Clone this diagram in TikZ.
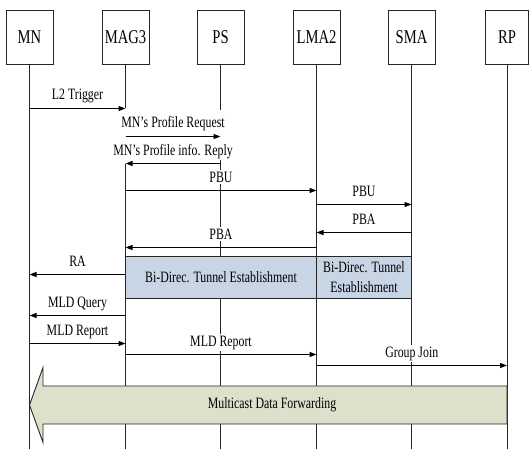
\documentclass[tikz,border=0pt]{standalone}
\usepackage{fontspec}
\setmainfont{Liberation Serif}[FakeStretch=0.75]
\usetikzlibrary{arrows.meta}
\definecolor{ln}{HTML}{262626}
\definecolor{tunnelfill}{HTML}{C8D5E5}
\definecolor{mcastfill}{HTML}{DCE1CB}
\begin{document}
\begin{tikzpicture}[x=1pt,y=-1pt,
  actor/.style={draw=ln, line width=0.9pt, minimum width=47pt, minimum height=54pt, inner sep=0pt, font=\fontsize{19.5}{20}\selectfont},
  life/.style={draw=ln, line width=0.9pt},
  msg/.style={draw=black, line width=1.1pt, -{Triangle[length=7pt,width=5pt]}},
  lbl/.style={fill=white, inner xsep=1pt, inner ysep=1.5pt, anchor=base, yshift=8.5pt, font=\fontsize{15.8}{16}\selectfont},
  tunnel/.style={draw=ln, line width=0.9pt, fill=tunnelfill, minimum height=42pt, inner sep=0pt, align=center, font=\fontsize{15.8}{20.5}\selectfont},
  bigarrow/.style={draw=ln, line width=0.9pt, fill=mcastfill, line join=miter}
]
\useasboundingbox (0,0) rectangle (529,449);
% actors
\node[actor] (mn)   at (29.5,37)  {MN};
\node[actor] (mag3) at (125.5,37) {MAG3};
\node[actor] (ps)   at (220.5,37) {PS};
\node[actor] (lma2) at (316.5,37) {LMA2};
\node[actor] (sma)  at (411.5,37) {SMA};
\node[actor, minimum width=43pt] (rp) at (507,37) {RP};
\coordinate (bot) at (0,449);
% lifelines
\draw[life] (mn.south) -- (mn.south |- bot);
\draw[life] (mag3.south) -- (mag3.south |- 0,108.5);
\draw[life] (mag3.south |- 0,163.5) -- (mag3.south |- bot);
\draw[life] (ps.south) -- (ps.south |- 0,110);
\draw[life] (ps.south |- 0,160) -- (ps.south |- bot);
\draw[life] (lma2.south) -- (lma2.south |- bot);
\draw[life] (sma.south) -- (sma.south |- bot);
\draw[life] (rp.south) -- (rp.south |- bot);
% messages
\draw[msg] (mn |- 0,108.5) -- node[lbl] {L2 Trigger} (mag3 |- 0,108.5);
\draw[msg] (mag3 |- 0,136.5) -- node[lbl] {MN’s Profile Request} (ps |- 0,136.5);
\draw[msg] (ps |- 0,163.5) -- node[lbl] {MN’s Profile info. Reply} (mag3 |- 0,163.5);
\draw[msg] (mag3 |- 0,190.5) -- node[lbl] {PBU} (lma2 |- 0,190.5);
\draw[msg] (lma2 |- 0,204.5) -- node[lbl] {PBU} (sma |- 0,204.5);
\draw[msg] (sma |- 0,232.5) -- node[lbl] {PBA} (lma2 |- 0,232.5);
\draw[msg] (lma2 |- 0,247.5) -- node[lbl] {PBA} (mag3 |- 0,247.5);
\draw[msg] (mag3 |- 0,274.5) -- node[lbl] {RA} (mn |- 0,274.5);
\draw[msg] (mag3 |- 0,315.5) -- node[lbl] {MLD Query} (mn |- 0,315.5);
\draw[msg] (mn |- 0,343.5) -- node[lbl] {MLD Report} (mag3 |- 0,343.5);
\draw[msg] (mag3 |- 0,354.5) -- node[lbl] {MLD Report} (lma2 |- 0,354.5);
\draw[msg] (lma2 |- 0,365.5) -- node[lbl] {Group Join} (rp |- 0,365.5);
% tunnel establishment
\node[tunnel, minimum width=191pt] (t1) at (221,277) {Bi-Direc. Tunnel Establishment};
\node[tunnel, minimum width=95pt] (t2) at (364,277) {Bi-Direc. Tunnel\\Establishment};
% multicast data forwarding
\draw[bigarrow] (rp |- 0,386) -- (43,386) -- (43,367.5) -- (mn |- 0,405) -- (43,442.5) -- (43,424) -- (rp |- 0,424) -- cycle;
\node[font=\fontsize{15.8}{16}\selectfont] (mcast) at (272,405) {Multicast Data Forwarding};
\end{tikzpicture}
\end{document}
